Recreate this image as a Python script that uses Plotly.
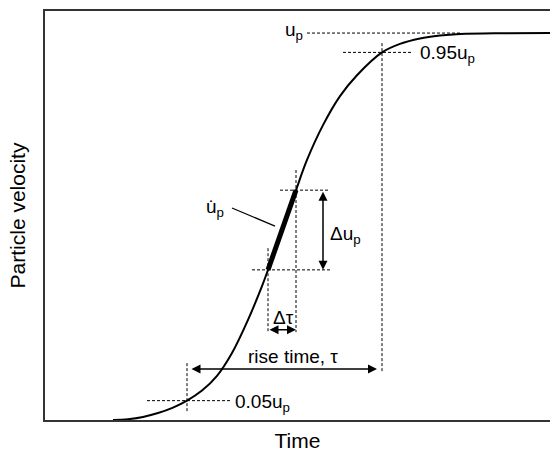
import plotly.graph_objects as go

# Curve (time in arbitrary units, velocity normalised to u_p)
time = [68, 83, 98, 113, 128, 142, 157, 172, 187, 202, 217, 223, 237, 251, 262, 278, 295,
        312, 337, 355, 375, 395, 415, 455, 506]
velocity = [0.0, 0.002, 0.008, 0.018, 0.032, 0.05, 0.076, 0.114, 0.173, 0.253, 0.346, 0.388,
            0.491, 0.594, 0.672, 0.762, 0.837, 0.891, 0.95, 0.972, 0.986, 0.9935, 0.9974,
            0.9995, 1.0]

# Key levels and times
level_lo, level_hi, level_top = 0.05, 0.95, 1.0
t_lo, t_hi = 142, 337            # times of 0.05 u_p and 0.95 u_p
slope_t = [223, 251]             # tangent segment times
slope_u = [0.388, 0.594]         # tangent segment velocities

FONT = "Liberation Sans, Arial, sans-serif"
DASH = dict(color="black", width=1, dash="3px,2px")

fig = go.Figure()
fig.add_trace(go.Scatter(x=time, y=velocity, mode="lines",
                         line=dict(color="black", width=2, shape="spline", smoothing=1),
                         hoverinfo="skip", showlegend=False))
# thick slope segment
fig.add_trace(go.Scatter(x=slope_t, y=slope_u, mode="lines",
                         line=dict(color="black", width=5), hoverinfo="skip", showlegend=False))


def seg(x0, y0, x1, y1, line=DASH):
    fig.add_shape(type="line", xref="x", yref="y", x0=x0, y0=y0, x1=x1, y1=y1, line=line)


# u_p level
seg(262, level_top, 415, level_top)
# 0.95 u_p
seg(298, level_hi, 368, level_hi)
seg(t_hi, 0.974, t_hi, 0.124)
# 0.05 u_p
seg(102, level_lo, 185, level_lo)
seg(t_lo, 0.147, t_lo, 0.02)
# slope guides
seg(235, slope_u[1], 285, slope_u[1])
seg(207, slope_u[0], 285, slope_u[0])
seg(slope_t[0], 0.444, slope_t[0], 0.227)
seg(slope_t[1], 0.646, slope_t[1], 0.227)
# leader for u-dot
seg(187, 0.548, 230, 0.501, line=dict(color="black", width=1.2))


def arrow(x0, y0, x1, y1):
    fig.add_annotation(x=x1, y=y1, ax=x0, ay=y0, xref="x", yref="y", axref="x", ayref="y",
                       text="", showarrow=True, arrowside="end+start", arrowhead=2,
                       arrowsize=1.2, arrowwidth=1.5, arrowcolor="black")


arrow(278, slope_u[1], 278, slope_u[0])        # delta u_p
arrow(slope_t[0], 0.233, slope_t[1], 0.233)    # delta tau
arrow(t_lo + 3, 0.132, t_hi - 5, 0.132)        # rise time


def label(x, y, text, xanchor="center"):
    fig.add_annotation(x=x, y=y, xref="x", yref="y", text=text, showarrow=False,
                       xanchor=xanchor, yanchor="middle", font=dict(family=FONT, size=19, color="black"))


label(260, 1.005, "u<sub>p</sub>", xanchor="right")
label(373, 0.945, "0.95u<sub>p</sub>", xanchor="left")
label(188, 0.045, "0.05u<sub>p</sub>", xanchor="left")
label(248, 0.163, "rise time, τ")
label(238, 0.264, "Δτ")
label(283, 0.478, "Δu<sub>p</sub>", xanchor="left")
label(170, 0.548, "u̇<sub>p</sub>")

fig.update_layout(
    width=550, height=453,
    margin=dict(l=45, r=0, t=11, b=33),
    paper_bgcolor="white", plot_bgcolor="white",
    font=dict(family=FONT, size=19, color="black"),
    xaxis=dict(range=[0, 505], showgrid=False, zeroline=False, showticklabels=False, ticks="",
               showline=True, linecolor="#333", linewidth=2, mirror=True,
               title=dict(text="Time", standoff=12, font=dict(size=21))),
    yaxis=dict(range=[0, 1.057], showgrid=False, zeroline=False, showticklabels=False, ticks="",
               showline=True, linecolor="#333", linewidth=2,
               title=dict(text="Particle velocity", standoff=12, font=dict(size=21))),
)

fig.write_html("out.html")
